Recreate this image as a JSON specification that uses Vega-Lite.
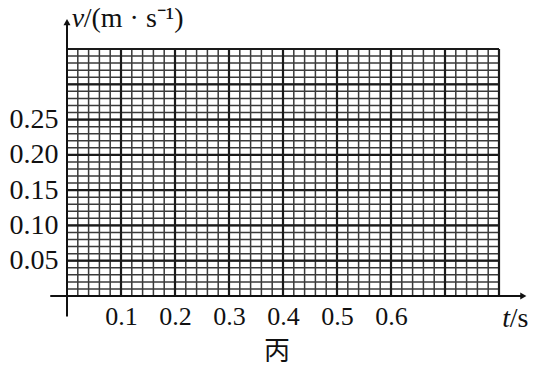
{
  "$schema": "https://vega.github.io/schema/vega-lite/v6.json",
  "width": 432,
  "height": 247,
  "autosize": {"type": "none"},
  "padding": {"left": 67, "top": 49, "right": 35, "bottom": 73},
  "background": "white",
  "config": {"view": {"stroke": null}},
  "datasets": {
    "vminor": [{"x":0},{"x":0.02},{"x":0.04},{"x":0.06},{"x":0.08},{"x":0.1},{"x":0.12},{"x":0.14},{"x":0.16},{"x":0.18},{"x":0.2},{"x":0.22},{"x":0.24},{"x":0.26},{"x":0.28},{"x":0.3},{"x":0.32},{"x":0.34},{"x":0.36},{"x":0.38},{"x":0.4},{"x":0.42},{"x":0.44},{"x":0.46},{"x":0.48},{"x":0.5},{"x":0.52},{"x":0.54},{"x":0.56},{"x":0.58},{"x":0.6},{"x":0.62},{"x":0.64},{"x":0.66},{"x":0.68},{"x":0.7},{"x":0.72},{"x":0.74},{"x":0.76},{"x":0.78},{"x":0.8}],
    "vmajor": [{"x":0.1},{"x":0.2},{"x":0.3},{"x":0.4},{"x":0.5},{"x":0.6},{"x":0.7},{"x":0.8}],
    "hminor": [{"y":0},{"y":0.01},{"y":0.02},{"y":0.03},{"y":0.04},{"y":0.05},{"y":0.06},{"y":0.07},{"y":0.08},{"y":0.09},{"y":0.1},{"y":0.11},{"y":0.12},{"y":0.13},{"y":0.14},{"y":0.15},{"y":0.16},{"y":0.17},{"y":0.18},{"y":0.19},{"y":0.2},{"y":0.21},{"y":0.22},{"y":0.23},{"y":0.24},{"y":0.25},{"y":0.26},{"y":0.27},{"y":0.28},{"y":0.29},{"y":0.3},{"y":0.31},{"y":0.32},{"y":0.33},{"y":0.34},{"y":0.35}],
    "hmajor": [{"y":0.05},{"y":0.1},{"y":0.15},{"y":0.2},{"y":0.25},{"y":0.3},{"y":0.35}],
    "italic": [{"x":0.009,"y":0.392,"label":"v"},{"x":0.806,"y":-0.033,"label":"t"}],
    "plain": [{"x":0.031,"y":0.392,"label":"/(m · s⁻¹)"},{"x":0.82,"y":-0.033,"label":"/s"}],
    "cjk": [{"x":0.389,"y":-0.08,"label":"丙"}],
    "xaxis": [{"x":-0.031,"x2":0.845,"y":0}],
    "yaxis": [{"x":0,"y":-0.029,"y2":0.388}],
    "xarrow": [{"x":0.845,"y":0}],
    "yarrow": [{"x":0,"y":0.388}]
  },
  "layer": [
    {
      "data": {"name": "vminor"},
      "mark": {"type": "rule", "color": "#3a3a3a", "strokeWidth": 1.5},
      "encoding": {
        "x": {"field": "x", "type": "quantitative", "scale": {"domain": [0, 0.8], "nice": false, "zero": false},
          "axis": {"values": [0.1,0.2,0.3,0.4,0.5,0.6], "format": ".1f", "domain": false, "ticks": false, "grid": false, "title": null,
            "labelFont": "Liberation Serif", "labelFontSize": 26, "labelColor": "#111", "labelPadding": 7}},
        "y": {"datum": 0, "type": "quantitative", "scale": {"domain": [0, 0.35], "nice": false, "zero": false},
          "axis": {"values": [0.05,0.1,0.15,0.2,0.25], "format": ".2f", "domain": false, "ticks": false, "grid": false, "title": null,
            "labelFont": "Liberation Serif", "labelFontSize": 28, "labelColor": "#111", "labelPadding": 9}},
        "y2": {"datum": 0.35}
      }
    },
    {
      "data": {"name": "hminor"},
      "mark": {"type": "rule", "color": "#3a3a3a", "strokeWidth": 1.5},
      "encoding": {
        "y": {"field": "y", "type": "quantitative"},
        "x": {"datum": 0, "type": "quantitative"},
        "x2": {"datum": 0.8}
      }
    },
    {
      "data": {"name": "vmajor"},
      "mark": {"type": "rule", "color": "#1a1a1a", "strokeWidth": 2.2},
      "encoding": {
        "x": {"field": "x", "type": "quantitative"},
        "y": {"datum": 0, "type": "quantitative"},
        "y2": {"datum": 0.35}
      }
    },
    {
      "data": {"name": "hmajor"},
      "mark": {"type": "rule", "color": "#1a1a1a", "strokeWidth": 2.2},
      "encoding": {
        "y": {"field": "y", "type": "quantitative"},
        "x": {"datum": 0, "type": "quantitative"},
        "x2": {"datum": 0.8}
      }
    },
    {
      "data": {"name": "xaxis"},
      "mark": {"type": "rule", "color": "#111", "strokeWidth": 2},
      "encoding": {
        "x": {"field": "x", "type": "quantitative"},
        "x2": {"field": "x2"},
        "y": {"field": "y", "type": "quantitative"}
      }
    },
    {
      "data": {"name": "yaxis"},
      "mark": {"type": "rule", "color": "#111", "strokeWidth": 2},
      "encoding": {
        "x": {"field": "x", "type": "quantitative"},
        "y": {"field": "y", "type": "quantitative"},
        "y2": {"field": "y2"}
      }
    },
    {
      "data": {"name": "xarrow"},
      "mark": {"type": "point", "shape": "triangle-right", "filled": true, "color": "#111", "size": 50, "opacity": 1},
      "encoding": {
        "x": {"field": "x", "type": "quantitative"},
        "y": {"field": "y", "type": "quantitative"}
      }
    },
    {
      "data": {"name": "yarrow"},
      "mark": {"type": "point", "shape": "triangle-up", "filled": true, "color": "#111", "size": 50, "opacity": 1},
      "encoding": {
        "x": {"field": "x", "type": "quantitative"},
        "y": {"field": "y", "type": "quantitative"}
      }
    },
    {
      "data": {"name": "italic"},
      "mark": {"type": "text", "font": "Liberation Serif", "fontStyle": "italic", "fontSize": 28, "align": "left", "baseline": "middle", "color": "#111"},
      "encoding": {
        "x": {"field": "x", "type": "quantitative"},
        "y": {"field": "y", "type": "quantitative"},
        "text": {"field": "label"}
      }
    },
    {
      "data": {"name": "plain"},
      "mark": {"type": "text", "font": "Liberation Serif", "fontSize": 28, "align": "left", "baseline": "middle", "color": "#111"},
      "encoding": {
        "x": {"field": "x", "type": "quantitative"},
        "y": {"field": "y", "type": "quantitative"},
        "text": {"field": "label"}
      }
    },
    {
      "data": {"name": "cjk"},
      "mark": {"type": "text", "font": "Noto Sans CJK SC", "fontSize": 26, "align": "center", "baseline": "middle", "color": "#111"},
      "encoding": {
        "x": {"field": "x", "type": "quantitative"},
        "y": {"field": "y", "type": "quantitative"},
        "text": {"field": "label"}
      }
    }
  ]
}
